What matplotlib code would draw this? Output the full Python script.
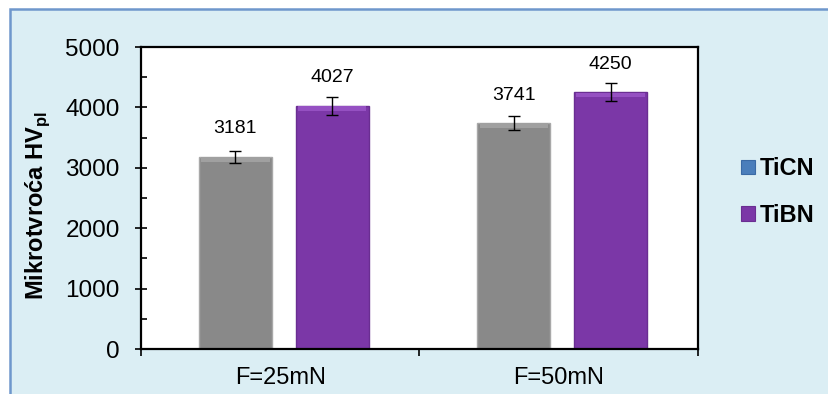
import matplotlib
matplotlib.use('Agg')
import matplotlib.pyplot as plt
import numpy as np
from matplotlib.patches import Rectangle, Patch

plt.rcParams['font.family'] = ['Liberation Sans', 'DejaVu Sans']
plt.rcParams['mathtext.fontset'] = 'custom'
plt.rcParams['mathtext.rm'] = 'Liberation Sans'
plt.rcParams['mathtext.bf'] = 'Liberation Sans:bold'

# data
categories = ['F=25mN', 'F=50mN']
series = ['TiCN', 'TiBN']
ticn = [3181, 3741]
tibn = [4027, 4250]
ticn_err = [105, 120]
tibn_err = [145, 150]

bar_colors = ['#898989', '#7B37A7']
bar_edges = ['#A8A8A8', '#6A2E92']
top_colors = ['#A0A0A0', '#9550C2']
legend_colors = ['#4A7EBB', '#7B37A7']

fig = plt.figure(figsize=(8.29, 3.94), dpi=100)
fig.patch.set_facecolor('white')

# light blue chart area with blue border
bg = Rectangle((10.5 / 829, -0.2), 1.2, 1.2 - 8.5 / 394,
               transform=fig.transFigure, facecolor='#DBEEF4',
               edgecolor='#6E97CC', linewidth=1.8, zorder=-10)
fig.patches.append(bg)

ax = fig.add_axes([141 / 829, 45 / 394, 557 / 829, 302 / 394])
ax.set_facecolor('white')

x = np.arange(len(categories))
w = 0.262
offs = [-0.161, 0.186]
vals = [ticn, tibn]
errs = [ticn_err, tibn_err]

for i in range(2):
    ax.bar(x + offs[i], vals[i], w, color=bar_colors[i], edgecolor=bar_edges[i],
           linewidth=1.0, zorder=2)
    # light bevel strip along the top of the bars
    ax.bar(x + offs[i], 80, w * 0.94, bottom=np.array(vals[i]) - 85,
           color=top_colors[i], linewidth=0, zorder=2.5)
    ax.errorbar(x + offs[i], vals[i], yerr=errs[i], fmt='none', ecolor='black',
                elinewidth=1.0, capsize=4, capthick=1.0, zorder=3)
    for xi, v in zip(x + offs[i], vals[i]):
        ax.annotate(str(v), (xi, v), xytext=(0, 14), textcoords='offset points',
                    ha='center', va='bottom', fontsize=14)

ax.set_xlim(-0.5, 1.5)
ax.set_ylim(0, 5000)

for s in ax.spines.values():
    s.set_color('black')
    s.set_linewidth(1.6)

ax.set_yticks(np.arange(0, 5001, 1000))
ax.set_yticks(np.arange(500, 5000, 1000), minor=True)
ax.tick_params(axis='y', which='major', direction='inout', length=8.6, width=1.2,
               labelsize=17.5, pad=11)
ax.tick_params(axis='y', which='minor', direction='in', length=4.3, width=1.2)

ax.set_xticks([-0.5, 0.5, 1.5])
ax.set_xticklabels([])
ax.set_xticks(x, minor=True)
ax.set_xticklabels(categories, minor=True)
ax.tick_params(axis='x', which='major', direction='out', length=5, width=1.2)
ax.tick_params(axis='x', which='minor', length=0, labelsize=17, pad=13)

fig.text(38 / 829, 1 - 205 / 394, r'Mikrotvroća HV$_{\mathbf{pl}}$',
         rotation=90, ha='center', va='center', fontsize=17, fontweight='bold')

handles = [Patch(facecolor=legend_colors[i], edgecolor=bar_edges[i] if i else '#3A6AA5',
                 linewidth=0.8) for i in range(2)]
leg = fig.legend(handles, series, loc='center left',
                 bbox_to_anchor=(729 / 829, 1 - 192 / 394), frameon=False,
                 borderpad=0, handlelength=0.6, handleheight=0.55,
                 handletextpad=0.2, labelspacing=1.0,
                 prop={'size': 17, 'weight': 'bold'})

fig.savefig('out.png', dpi=100)
